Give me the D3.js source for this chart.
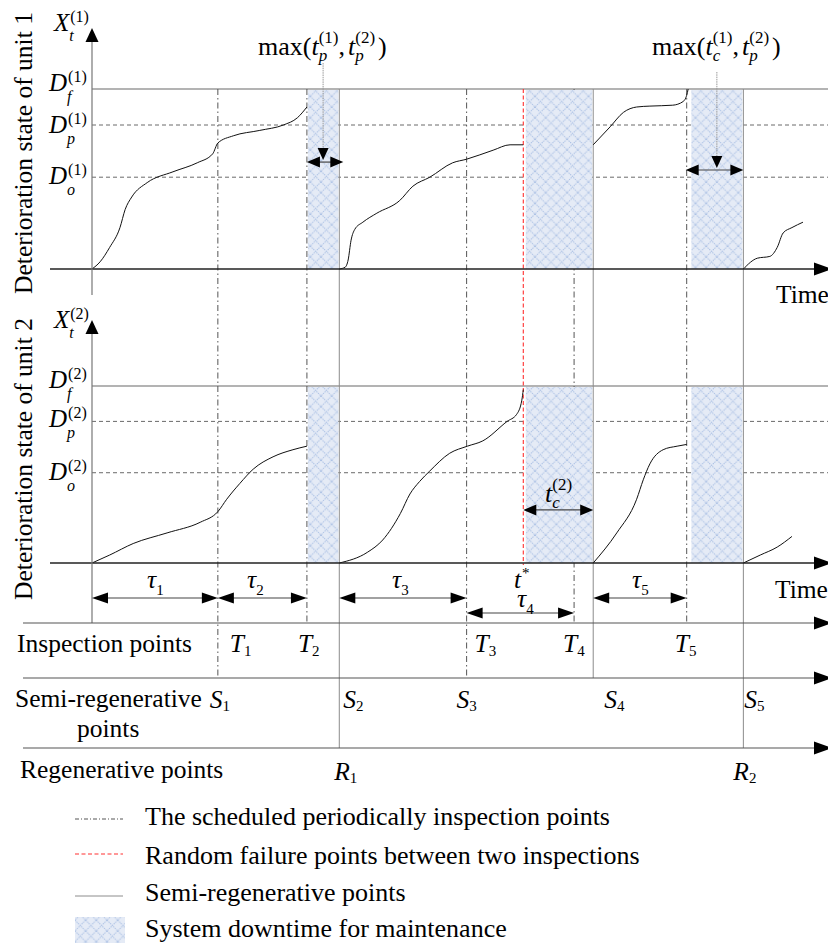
<!DOCTYPE html>
<html><head><meta charset="utf-8">
<script src="https://cdn.jsdelivr.net/npm/d3@7"></script>
<style>
html,body{margin:0;padding:0;background:#fff;}
svg{display:block;font-family:"Liberation Serif","Times New Roman",serif;}
</style></head><body>
<svg id="chart" width="828" height="943"></svg>
<script>
// Time runs 0..100; deterioration is normalised so that the failure level D_f = 1.
const inspections      = [17.1, 29.2, 50.9, 65.5, 80.8];   // T1..T5
const semiRegenerative = [17.1, 33.6, 50.9, 68.1, 88.5];   // S1..S5
const regenerative     = [33.6, 88.5];                     // R1, R2
const failureTime      = 58.6;                             // t*
const downtimes        = [[29.2, 33.6], [58.8, 68.1], [81.3, 88.5]];
const thresholdKeys    = ["f", "p", "o"];
const thresholdsUnit1  = [1.0, 0.80, 0.51];
const thresholdsUnit2  = [1.0, 0.80, 0.51];
const tauSpans         = [[0, 17.1], [17.1, 29.2], [33.6, 50.9], [50.9, 65.5], [68.1, 80.8]];

// degradation paths of unit 1, one list per renewal cycle
const unit1Paths = [
  [[0,0],[1.1,0.04],[2.4,0.12],[3.8,0.23],[4.5,0.33],[5.4,0.40],[7.5,0.48],[11.0,0.54],[14.3,0.59],[16.4,0.64],[17.1,0.70],[19.2,0.74],[22.8,0.77],[26.0,0.80],[27.9,0.84],[29.2,0.90]],
  [[33.6,0],[34.4,0.01],[34.8,0.05],[35.2,0.16],[35.7,0.22],[36.8,0.26],[38.7,0.31],[41.8,0.38],[43.6,0.46],[45.9,0.51],[49.0,0.59],[50.9,0.61],[54.5,0.66],[56.8,0.69],[58.6,0.69]],
  [[68.1,0.69],[70.4,0.79],[72.2,0.87],[74.0,0.90],[75.8,0.905],[78.9,0.91],[80.3,0.93],[80.8,0.965],[81.0,1.0]],
  [[88.5,0],[90.4,0.06],[92.1,0.07],[93.1,0.12],[93.9,0.20],[95.1,0.23],[96.6,0.26]]
];
// degradation paths of unit 2
const unit2Paths = [
  [[0,0],[2.4,0.045],[5.6,0.11],[10.2,0.17],[14.7,0.23],[17.1,0.29],[18.3,0.36],[20.1,0.45],[21.9,0.53],[24.6,0.60],[27.3,0.64],[29.2,0.66]],
  [[33.6,0],[37.4,0.06],[39.5,0.13],[41.9,0.28],[43.2,0.39],[44.5,0.46],[45.9,0.52],[48.6,0.62],[51.0,0.66],[53.1,0.69],[56.4,0.80],[57.7,0.84],[58.4,0.92],[58.6,0.98]],
  [[68.1,0],[71.3,0.17],[74.0,0.36],[74.9,0.47],[75.8,0.56],[77.6,0.64],[79.5,0.66],[80.8,0.67]],
  [[88.5,0],[90.8,0.045],[93.1,0.09],[95.1,0.15]]
];
const legendItems = [
  "The scheduled periodically inspection points",
  "Random failure points between two inspections",
  "Semi-regenerative points",
  "System downtime for maintenance"
];

// ---------- layout ----------
const svg = d3.select("#chart");
const x  = d3.scaleLinear().domain([0, 100]).range([92, 828]);
const y1 = d3.scaleLinear().domain([0, 1]).range([269, 89]);
const y2 = d3.scaleLinear().domain([0, 1]).range([563, 386]);
const rowInspect = 623, rowSemi = 678, rowRegen = 748;
const DARK = "#444";

const defs = svg.append("defs");
const pat = defs.append("pattern").attr("id", "hatch").attr("patternUnits", "userSpaceOnUse")
  .attr("width", 10.7).attr("height", 10.7);
pat.append("rect").attr("width", 10.7).attr("height", 10.7).attr("fill", "#e5ebf6");
pat.append("path").attr("d", "M0,0L10.7,10.7M10.7,0L0,10.7")
  .attr("stroke", "#a9bfe4").attr("stroke-width", 1).attr("stroke-dasharray", "1.3,0.9");

function head(g, px, py, dir, len = 16, hw = 5.5) {
  const p = {
    right: [[px, py], [px - len, py - hw], [px - len, py + hw]],
    left:  [[px, py], [px + len, py - hw], [px + len, py + hw]],
    up:    [[px, py], [px - hw, py + len], [px + hw, py + len]],
    down:  [[px, py], [px - hw, py - len], [px + hw, py - len]]
  }[dir];
  g.append("polygon").attr("points", p.map(d => d.join(",")).join(" ")).attr("fill", "#000");
}
function hline(g, x1, x2, yy, stroke, w, dash) {
  const l = g.append("line").attr("x1", x1).attr("x2", x2).attr("y1", yy).attr("y2", yy)
    .attr("stroke", stroke).attr("stroke-width", w);
  if (dash) l.attr("stroke-dasharray", dash);
  return l;
}
function vline(g, xx, ya, yb, stroke, w, dash) {
  const l = g.append("line").attr("x1", xx).attr("x2", xx).attr("y1", ya).attr("y2", yb)
    .attr("stroke", stroke).attr("stroke-width", w);
  if (dash) l.attr("stroke-dasharray", dash);
  return l;
}
function doubleArrow(g, xa, xb, yy, len = 13, hw = 5.5) {
  hline(g, xa + 4, xb - 4, yy, DARK, 1.2);
  head(g, xa, yy, "left", len, hw);
  head(g, xb, yy, "right", len, hw);
}
// text with stacked super/subscripts
function math(g, x0, yb, parts, o = {}) {
  const size = o.size || 25, small = o.small || 16;
  const supDy = o.supDy ?? -9, subDy = o.subDy ?? 10;
  let cx = x0;
  parts.forEach(p => {
    const t = g.append("text").attr("x", cx).attr("y", yb).attr("font-size", size)
      .attr("font-style", p.italic ? "italic" : "normal").text(p.text);
    cx += t.node().getComputedTextLength();
    let w = 0;
    if (p.sup) {
      const s = g.append("text").attr("x", cx + (o.supDx || 0)).attr("y", yb + supDy)
        .attr("font-size", small).text(p.sup);
      w = Math.max(w, s.node().getComputedTextLength() + (o.supDx || 0));
    }
    if (p.sub) {
      const s = g.append("text").attr("x", cx + (o.subDx || 0)).attr("y", yb + (o.subDy2 ?? subDy))
        .attr("font-size", small).attr("font-style", p.subItalic ? "italic" : "normal").text(p.sub);
      w = Math.max(w, s.node().getComputedTextLength() + (o.subDx || 0));
    }
    cx += w + (p.gap || 0);
  });
}

const panels = [
  { y: y1, th: thresholdsUnit1, paths: unit1Paths, unit: "1", axisTop: 28, axisBottom: 295 },
  { y: y2, th: thresholdsUnit2, paths: unit2Paths, unit: "2", axisTop: 320, axisBottom: rowInspect }
];
const thLabelBase = [[91, 133, 184], [388, 427, 480]];
const xLabelBase = [31, 328];
const yTitleMid = [153, 459];

// threshold lines
panels.forEach(P => {
  P.th.forEach((v, i) => {
    if (i === 0) hline(svg, x(0), 828, P.y(v), "#9a9a9a", 1.6);
    else hline(svg, x(0), 828, P.y(v), "#6a6a6a", 1, "4,3");
  });
});

// vertical event lines
const allTimes = Array.from(new Set([...inspections, ...semiRegenerative, ...regenerative])).sort((a, b) => a - b);
allTimes.forEach(t => {
  const bottom = regenerative.includes(t) ? rowRegen : semiRegenerative.includes(t) ? rowSemi : rowInspect;
  if (inspections.includes(t)) vline(svg, x(t), y1(1), bottom, "#555", 1, "6,3,1.5,3");
  else vline(svg, x(t), y1(1), bottom, "#8c8c8c", 1);
});
vline(svg, x(failureTime), y1(1), y2(0) + 2, "#ff3030", 1.1, "4,2.5");

// maintenance downtime
panels.forEach(P => {
  downtimes.forEach(([a, b]) => {
    svg.append("rect").attr("x", x(a) + 1).attr("width", x(b) - x(a) - 2)
      .attr("y", P.y(1) + 1).attr("height", P.y(0) - P.y(1) - 1)
      .attr("fill", "url(#hatch)");
  });
});

// degradation paths
const line = d3.line().curve(d3.curveMonotoneX);
panels.forEach(P => {
  const ln = line.x(d => x(d[0])).y(d => P.y(d[1]));
  P.paths.forEach(path => {
    svg.append("path").attr("d", ln(path)).attr("fill", "none").attr("stroke", "#111").attr("stroke-width", 1);
  });
});

// axes
panels.forEach((P, k) => {
  hline(svg, 50, 816, P.y(0), "#222", 1.3);
  head(svg, 832, P.y(0), "right", 18, 6.5);
  vline(svg, x(0), P.axisBottom, P.axisTop + 10, "#777", 1.2);
  head(svg, x(0), P.axisTop, "up", 14, 6.5);
  math(svg, 54, xLabelBase[k], [{ text: "X", italic: true, sup: "(" + P.unit + ")", sub: "t", subItalic: true }], { supDx: 1, subDx: 0 });
  thresholdKeys.forEach((key, i) => {
    math(svg, 49, thLabelBase[k][i], [{ text: "D", italic: true, sup: "(" + P.unit + ")", sub: key, subItalic: true }], { supDx: 1, subDx: 0, subDy2: 11 });
  });
  svg.append("text").attr("transform", `translate(32,${yTitleMid[k]}) rotate(-90)`)
    .attr("text-anchor", "middle").attr("font-size", 25.5).text("Deterioration state of unit " + P.unit);
});
svg.append("text").attr("x", 776).attr("y", 303).attr("font-size", 25.5).text("Time");
svg.append("text").attr("x", 775).attr("y", 598).attr("font-size", 25.5).text("Time");

// maintenance duration annotations
const d1mid = (downtimes[0][0] + downtimes[0][1]) / 2;
const d3mid = (downtimes[2][0] + downtimes[2][1]) / 2;
doubleArrow(svg, x(inspections[1]), x(semiRegenerative[1]) + 4, y1(0.594));
vline(svg, x(d1mid), 63, y1(0.594) - 10, "#999", 1, "1.5,0.8");
head(svg, x(d1mid), y1(0.594) - 2, "down", 12, 5.5);
math(svg, 258, 55, [{ text: "max(" }, { text: "t", italic: true, sup: "(1)", sub: "p", subItalic: true }, { text: ",", gap: 3 },
  { text: "t", italic: true, sup: "(2)", sub: "p", subItalic: true, gap: 3 }, { text: ")" }], { size: 26, small: 17, supDy: -12, subDy: 6 });

doubleArrow(svg, x(inspections[4]) - 1, x(semiRegenerative[4]), y1(0.55));
vline(svg, x(d3mid), 72, y1(0.55) - 10, "#999", 1, "1.5,0.8");
head(svg, x(d3mid), y1(0.55) - 2, "down", 12, 5.5);
math(svg, 652, 55, [{ text: "max(" }, { text: "t", italic: true, sup: "(1)", sub: "c", subItalic: true }, { text: ",", gap: 3 },
  { text: "t", italic: true, sup: "(2)", sub: "p", subItalic: true, gap: 3 }, { text: ")" }], { size: 26, small: 17, supDy: -12, subDy: 6 });

doubleArrow(svg, x(failureTime), x(semiRegenerative[3]), y2(0.30));
math(svg, 545, 502, [{ text: "t", italic: true, sup: "(2)", sub: "c", subItalic: true }], { size: 26, small: 17, supDy: -12, subDy: 6 });

// inspection intervals
const tauY = [598, 598, 598, 613, 598];
const tauLabelPos = [[147, 588], [247, 588], [392, 588], [517, 607], [632, 588]];
tauSpans.forEach(([a, b], i) => {
  hline(svg, x(a) + 6, x(b) - 6, tauY[i], DARK, 1.2);
  head(svg, x(a), tauY[i], "left", 16, 5.5);
  head(svg, x(b), tauY[i], "right", 16, 5.5);
  math(svg, tauLabelPos[i][0], tauLabelPos[i][1], [{ text: "τ", italic: true, sub: String(i + 1) }], { size: 25.5, small: 15, subDy: 7 });
});
math(svg, 514, 588, [{ text: "t", italic: true, sup: "*" }], { size: 25.5, small: 15, supDy: -10, supDx: 1 });

// event rows
[rowInspect, rowSemi, rowRegen].forEach(r => {
  hline(svg, 23, 816, r, "#555", 1.2);
  head(svg, 832, r, "right", 18, 6.5);
});
const rowText = (tx, ty, s) => svg.append("text").attr("x", tx).attr("y", ty).attr("font-size", 25.5).text(s);
rowText(17, 652, "Inspection points");
rowText(15, 707, "Semi-regenerative");
rowText(77, 737, "points");
rowText(20, 778, "Regenerative points");

const tLabelDx = [12, -9, 8, -11, -12];
const sLabelDx = [-8, 4, -10, 11, 1];
const rLabelDx = [-5, -10];
inspections.forEach((t, i) => math(svg, x(t) + tLabelDx[i], 652, [{ text: "T", italic: true, sub: String(i + 1) }], { size: 25.5, small: 15, subDy: 4 }));
semiRegenerative.forEach((t, i) => math(svg, x(t) + sLabelDx[i], 708, [{ text: "S", italic: true, sub: String(i + 1) }], { size: 25.5, small: 15, subDy: 3 }));
regenerative.forEach((t, i) => math(svg, x(t) + rLabelDx[i], 780, [{ text: "R", italic: true, sub: String(i + 1) }], { size: 25.5, small: 15, subDy: 3 }));

// legend
const lg = svg.append("g");
const legY = [819, 854, 896];
hline(lg, 75, 123, legY[0], "#555", 1, "4,2,1,2");
hline(lg, 75, 123, legY[1], "#ff3030", 1.1, "4,2.5");
hline(lg, 75, 123, legY[2], "#8c8c8c", 1);
lg.append("rect").attr("x", 75).attr("y", 917).attr("width", 50).attr("height", 26).attr("fill", "url(#hatch)");
const legTextY = [825, 864, 901, 937];
legendItems.forEach((s, i) => lg.append("text").attr("x", 145).attr("y", legTextY[i]).attr("font-size", 26).text(s));
</script>
</body></html>
